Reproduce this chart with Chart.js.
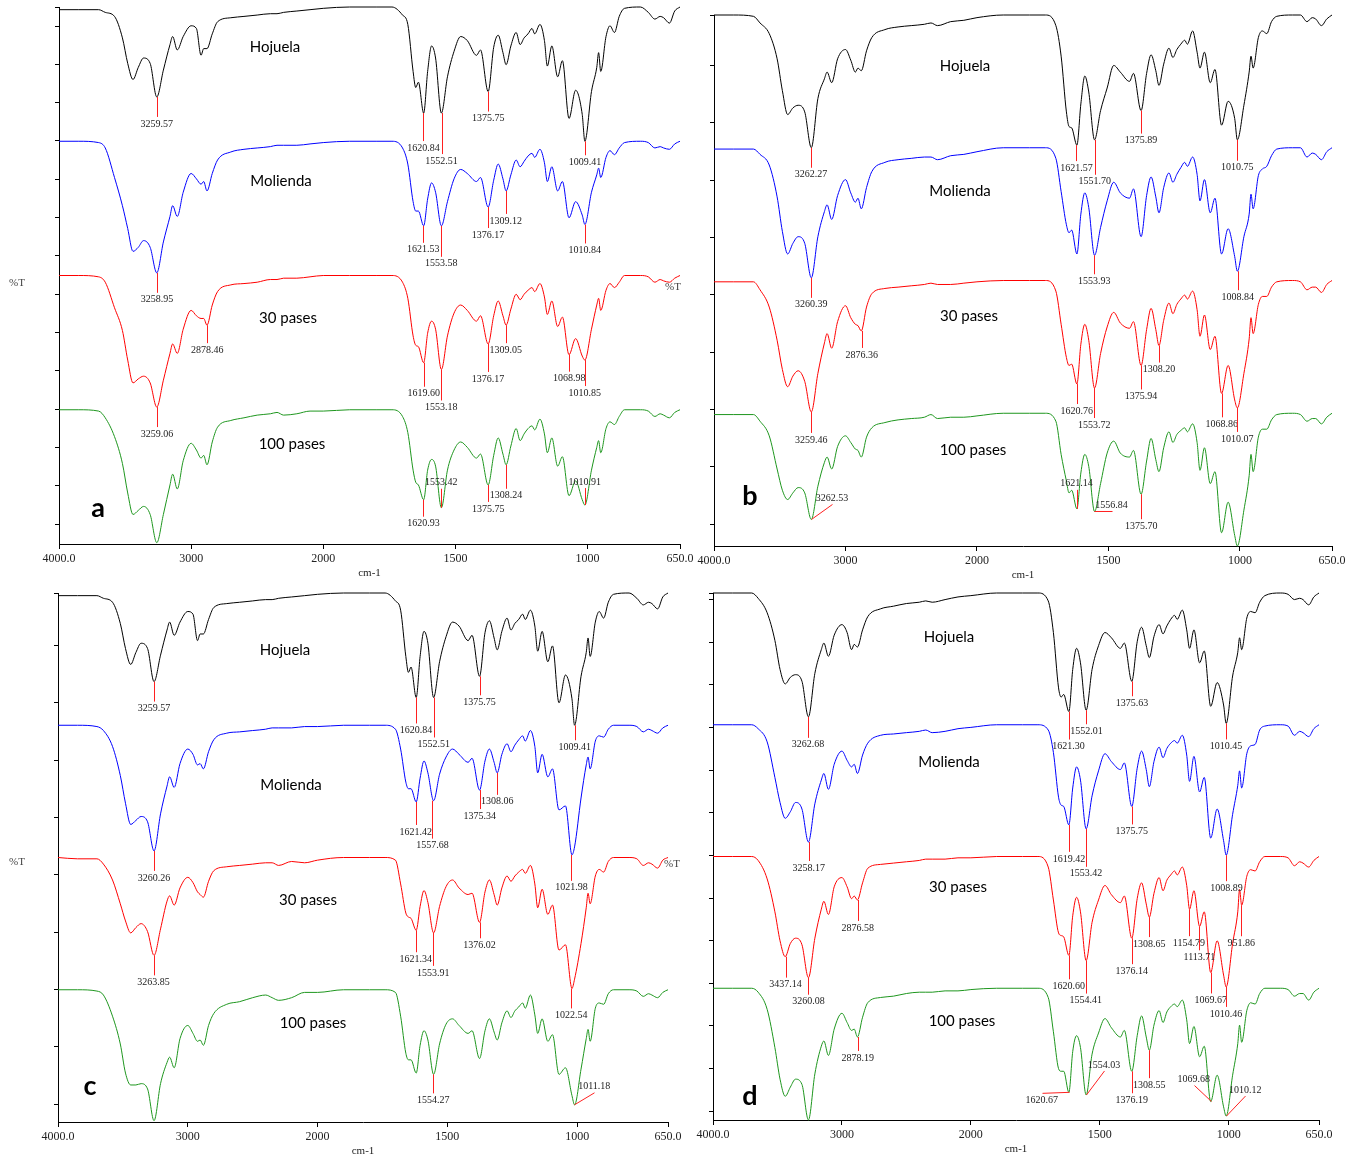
<!DOCTYPE html>
<html>
<head>
<meta charset="utf-8">
<script src="https://cdn.jsdelivr.net/npm/chart.js"></script>
<style>
  body { margin: 0; background: #fff; }
  #page { position: relative; width: 1360px; height: 1156px; overflow: hidden; background: #fff; }
  #page canvas { position: absolute; }
</style>
</head>
<body>
<div id="page">
  <canvas id="panelA"></canvas>
  <canvas id="panelB"></canvas>
  <canvas id="panelC"></canvas>
  <canvas id="panelD"></canvas>
</div>
<script>
const WN = [
  4000, 3850, 3700, 3650, 3580, 3520, 3480, 3440, 3400, 3360, 3310, 3260, 3210, 3160, 3140, 3105, 3060,
  3000, 2960, 2925, 2905, 2880, 2840, 2800, 2700, 2600, 2500, 2400, 2350, 2300, 2200, 2100, 2000,
  1900, 1800, 1740, 1700, 1680, 1660, 1650, 1640, 1620, 1605, 1590, 1575, 1553, 1530, 1505, 1480,
  1455, 1420, 1405, 1376, 1355, 1338, 1320, 1308, 1290, 1270, 1255, 1240, 1225, 1210, 1200, 1180,
  1163, 1152, 1135, 1113, 1095, 1070, 1045, 1020, 1010, 985, 965, 958, 950, 930, 915, 898, 880,
  860, 800, 770, 745, 725, 712, 690, 670, 650
];

const TRACE_NAMES = ['Hojuela', 'Molienda', '30 pases', '100 pases'];
const X_TICK_WN = [4000, 3000, 2000, 1500, 1000, 650];
const X_TICK_LABELS = ['4000.0', '3000', '2000', '1500', '1000', '650.0'];

// %T, 100 = flat baseline of the trace
const HOJUELA_AC = [
  98, 98, 98, 96, 93, 77, 58, 46, 55, 62, 58, 33, 53, 72, 78, 68, 78, 86, 84, 64, 69, 69, 80, 89, 92, 93, 94, 95, 95, 96, 97, 98, 99,
  100, 100, 100, 94, 87, 52, 40, 44, 21, 52, 71, 62, 21, 48, 67, 78, 75, 64, 68, 37, 70, 79, 66, 57, 71, 81, 72, 77, 80, 84, 80, 87,
  75, 56, 71, 48, 60, 17, 38, 20, 0, 37, 55, 66, 52, 78, 86, 81, 93, 99, 100, 96, 91, 93, 92, 88, 97, 100
];
const MOLIENDA_A = [
  100, 100, 99, 95, 73, 52, 35, 18, 21, 26, 21, 2, 25, 44, 52, 44, 62, 76, 72, 68, 70, 63, 76, 86, 92, 94, 95, 96, 97, 97, 97, 98, 99,
  100, 100, 100, 95, 83, 55, 48, 48, 37, 57, 69, 62, 37, 55, 72, 79, 76, 70, 73, 51, 71, 83, 72, 63, 75, 86, 81, 85, 89, 91, 88, 94,
  84, 70, 81, 63, 70, 43, 55, 45, 38, 62, 75, 80, 73, 88, 93, 90, 95, 99, 100, 99, 95, 96, 95, 94, 98, 100
];
const PASES30_A = [
  100, 100, 99, 95, 76, 59, 37, 20, 23, 25, 20, 2, 22, 42, 49, 42, 60, 74, 70, 68, 68, 63, 78, 88, 93, 94, 95, 97, 97, 98, 98, 99, 100,
  100, 100, 100, 95, 83, 55, 48, 47, 35, 57, 66, 60, 30, 55, 72, 78, 74, 66, 70, 49, 70, 81, 70, 63, 75, 86, 82, 86, 89, 91, 88, 94,
  84, 71, 81, 62, 69, 41, 53, 40, 37, 60, 78, 83, 74, 89, 94, 91, 95, 100, 100, 99, 95, 97, 96, 95, 98, 100
];
const PASES100_A = [
  100, 100, 99, 94, 80, 60, 38, 22, 25, 28, 22, 1, 22, 44, 52, 41, 62, 75, 70, 64, 66, 59, 76, 87, 92, 94, 96, 97, 98, 96, 97, 99, 99,
  100, 100, 100, 95, 83, 55, 46, 44, 33, 55, 63, 58, 27, 55, 70, 76, 72, 64, 67, 44, 66, 79, 67, 59, 73, 86, 77, 82, 86, 88, 85, 93,
  82, 68, 79, 58, 65, 36, 47, 33, 29, 55, 72, 77, 68, 86, 91, 89, 95, 100, 100, 99, 95, 97, 96, 94, 98, 100
];

const HOJUELA_B = [
  100, 100, 99, 94, 86, 67, 43, 25, 30, 32, 27, 0, 37, 52, 57, 49, 67, 74, 66, 57, 60, 58, 73, 83, 89, 91, 92, 93, 94, 92, 95, 96, 98,
  100, 100, 100, 92, 69, 27, 16, 15, 2, 33, 54, 42, 6, 28, 45, 62, 57, 50, 56, 28, 56, 70, 58, 47, 63, 75, 68, 74, 78, 81, 78, 88,
  72, 60, 72, 49, 59, 17, 35, 22, 6, 32, 57, 69, 60, 83, 88, 86, 95, 99, 100, 100, 95, 98, 97, 92, 97, 100
];
const MOLIENDA_B = [
  99, 99, 99, 95, 87, 63, 37, 20, 28, 33, 28, 2, 33, 52, 57, 46, 64, 76, 66, 59, 62, 54, 70, 82, 89, 91, 92, 93, 93, 91, 94, 95, 97,
  100, 100, 100, 92, 67, 42, 36, 38, 20, 50, 66, 55, 19, 40, 60, 74, 66, 62, 69, 33, 64, 78, 63, 51, 70, 81, 74, 80, 85, 89, 86, 93,
  80, 60, 76, 51, 62, 20, 39, 18, 7, 33, 50, 65, 54, 79, 84, 86, 94, 99, 100, 100, 93, 96, 95, 91, 97, 100
];
const PASES30_B = [
  99, 99, 99, 93, 80, 55, 33, 20, 28, 32, 24, 1, 30, 53, 60, 49, 69, 81, 72, 67, 66, 62, 80, 90, 94, 95, 96, 97, 98, 97, 97, 98, 99,
  100, 100, 100, 92, 67, 42, 36, 37, 22, 52, 67, 55, 19, 45, 65, 76, 68, 64, 69, 36, 63, 79, 63, 51, 70, 83, 75, 82, 86, 89, 86, 92,
  78, 58, 74, 48, 58, 15, 36, 10, 4, 30, 56, 72, 60, 82, 88, 88, 95, 99, 100, 99, 93, 95, 95, 91, 97, 100
];
const PASES100_B = [
  99, 99, 99, 94, 83, 58, 42, 35, 40, 44, 40, 20, 45, 63, 67, 58, 75, 83, 78, 73, 72, 67, 82, 89, 93, 95, 96, 97, 99, 96, 97, 97, 98,
  100, 100, 100, 94, 69, 49, 40, 42, 28, 55, 69, 60, 26, 47, 70, 79, 70, 67, 72, 39, 64, 81, 65, 56, 74, 86, 78, 84, 87, 89, 86, 92,
  78, 57, 74, 47, 56, 10, 33, 8, 0, 27, 53, 69, 56, 82, 88, 88, 95, 99, 100, 99, 94, 96, 96, 92, 97, 100
];

const MOLIENDA_C = [
  100, 100, 99, 96, 84, 62, 41, 25, 28, 31, 27, 5, 33, 54, 61, 53, 71, 82, 78, 70, 71, 67, 80, 89, 94, 95, 96, 97, 98, 98, 98, 99, 99,
  100, 100, 100, 97, 82, 57, 52, 52, 42, 60, 73, 64, 43, 63, 76, 82, 78, 72, 75, 51, 73, 82, 72, 64, 78, 86, 80, 85, 89, 92, 88, 96,
  84, 64, 78, 61, 67, 36, 39, 2, 8, 45, 70, 76, 67, 88, 92, 91, 97, 100, 100, 99, 95, 97, 96, 94, 98, 100
];
const PASES30_C = [
  100, 99, 99, 95, 83, 65, 52, 43, 47, 50, 44, 26, 46, 67, 71, 64, 77, 85, 81, 74, 72, 70, 82, 90, 93, 94, 95, 96, 96, 94, 97, 96, 98,
  100, 100, 100, 98, 80, 58, 55, 54, 45, 63, 75, 66, 43, 63, 78, 83, 77, 72, 73, 51, 74, 83, 72, 64, 77, 86, 82, 86, 89, 91, 88, 94,
  80, 62, 76, 57, 64, 30, 34, 1, 8, 35, 62, 73, 65, 86, 91, 89, 97, 100, 100, 99, 94, 96, 95, 92, 98, 100
];
const PASES100_C = [
  100, 100, 99, 96, 80, 59, 37, 28, 28, 29, 25, 1, 29, 45, 49, 41, 63, 73, 67, 61, 62, 58, 73, 82, 89, 91, 94, 96, 94, 92, 94, 98, 98,
  100, 100, 100, 98, 80, 52, 47, 47, 37, 58, 69, 62, 36, 59, 74, 78, 73, 67, 69, 48, 69, 78, 68, 62, 75, 84, 79, 84, 87, 90, 86, 96,
  81, 67, 78, 61, 66, 36, 41, 20, 13, 40, 63, 70, 61, 86, 90, 89, 97, 100, 100, 99, 95, 97, 96, 94, 98, 100
];

const HOJUELA_D = [
  100, 100, 100, 96, 85, 64, 42, 31, 36, 38, 33, 6, 39, 57, 62, 52, 68, 76, 70, 57, 61, 59, 72, 82, 88, 90, 92, 93, 94, 93, 95, 97, 98,
  100, 100, 100, 94, 70, 28, 21, 23, 10, 42, 58, 47, 11, 42, 60, 70, 66, 58, 62, 33, 63, 74, 60, 51, 67, 76, 69, 75, 80, 83, 80, 87,
  72, 58, 72, 47, 56, 14, 32, 15, 1, 37, 55, 66, 57, 81, 86, 85, 93, 98, 100, 99, 95, 96, 95, 91, 97, 100
];
const MOLIENDA_D = [
  100, 100, 100, 97, 87, 60, 41, 29, 34, 41, 36, 11, 40, 58, 63, 51, 70, 80, 73, 68, 70, 63, 77, 86, 92, 93, 94, 95, 96, 94, 95, 97, 98,
  100, 100, 100, 96, 79, 45, 39, 38, 24, 52, 68, 58, 21, 46, 65, 78, 72, 66, 71, 38, 67, 80, 66, 53, 72, 83, 75, 82, 86, 88, 86, 92,
  77, 57, 76, 49, 60, 14, 36, 12, 1, 32, 54, 65, 52, 78, 84, 85, 96, 99, 100, 99, 92, 95, 94, 91, 97, 100
];
const PASES30_D = [
  100, 100, 100, 97, 83, 58, 36, 24, 34, 38, 33, 8, 38, 60, 66, 56, 77, 84, 77, 68, 70, 67, 80, 91, 94, 95, 96, 97, 98, 98, 98, 99, 99,
  100, 100, 100, 92, 67, 42, 40, 39, 25, 55, 69, 58, 21, 50, 67, 78, 71, 65, 70, 38, 68, 80, 64, 54, 72, 84, 74, 82, 86, 89, 86, 92,
  78, 60, 74, 47, 58, 12, 36, 10, 1, 34, 58, 75, 63, 85, 90, 89, 96, 100, 100, 99, 93, 96, 95, 92, 97, 100
];
const PASES100_D = [
  100, 100, 100, 97, 84, 55, 31, 18, 25, 31, 27, 0, 35, 56, 60, 49, 69, 81, 74, 68, 69, 63, 78, 89, 93, 94, 96, 97, 97, 97, 98, 98, 99,
  100, 100, 100, 93, 67, 39, 37, 37, 21, 52, 64, 55, 19, 50, 66, 77, 70, 63, 68, 37, 64, 79, 63, 53, 72, 83, 74, 82, 86, 88, 86, 91,
  76, 58, 71, 48, 56, 14, 34, 10, 3, 34, 58, 72, 59, 83, 89, 88, 96, 100, 100, 99, 94, 96, 96, 91, 97, 100
];

// peak labels: [trace, label, line dx, line dy, label above/below]
const PEAKS_A = [
  [0, '3259.57', 0, 20, 'b'], [0, '1620.84', 0, 28, 'b'], [0, '1552.51', 0, 41, 'b'], [0, '1375.75', 0, 20, 'b'], [0, '1009.41', 0, 14, 'b'],
  [1, '3258.95', 0, 20, 'b'], [1, '1621.53', 0, 17, 'b'], [1, '1553.58', 0, 31, 'b'], [1, '1376.17', 0, 21, 'b'], [1, '1309.12', 0, 23, 'b'], [1, '1010.84', 0, 19, 'b'],
  [2, '3259.06', 0, 20, 'b'], [2, '2878.46', 0, 18, 'b'], [2, '1619.60', 0, 24, 'b'], [2, '1553.18', 0, 31, 'b'], [2, '1376.17', 0, 28, 'b'],
  [2, '1309.05', 0, 18, 'b'], [2, '1068.98', 0, 17, 'b'], [2, '1010.85', 0, 26, 'b'],
  [3, '1553.42', 0, -19, 'a'], [3, '1010.91', 0, -17, 'a'], [3, '1308.24', 0, 24, 'b'], [3, '1375.75', 0, 17, 'b'], [3, '1620.93', 0, 17, 'b']
];
const PEAKS_B = [
  [0, '3262.27', 0, 20, 'b'], [0, '1621.57', 0, 16, 'b'], [0, '1551.70', 0, 35, 'b'], [0, '1375.89', 0, 23, 'b'], [0, '1010.75', 0, 21, 'b'],
  [1, '3260.39', 0, 20, 'b'], [1, '1553.93', 0, 19, 'b'], [1, '1008.84', 0, 19, 'b'],
  [2, '3259.46', 0, 21, 'b'], [2, '2876.36', 0, 17, 'b'], [2, '1620.76', 0, 20, 'b'], [2, '1553.72', 0, 30, 'b'], [2, '1375.94', 0, 24, 'b'],
  [2, '1308.20', 0, 17, 'b'], [2, '1068.86', 0, 24, 'b'], [2, '1010.07', 0, 24, 'b'],
  [3, '3262.53', 21, -15, 'a'], [3, '1621.14', 0, -19, 'a'], [3, '1556.84', 18, 0, 'a'], [3, '1375.70', 0, 25, 'b']
];
const PEAKS_C = [
  [0, '3259.57', 0, 20, 'b'], [0, '1620.84', 0, 26, 'b'], [0, '1552.51', 0, 40, 'b'], [0, '1375.75', 0, 19, 'b'], [0, '1009.41', 0, 15, 'b'],
  [1, '3260.26', 0, 20, 'b'], [1, '1621.42', 0, 23, 'b'], [1, '1557.68', 0, 38, 'b'], [1, '1375.34', 0, 19, 'b'], [1, '1308.06', 0, 22, 'b'], [1, '1021.98', 0, 26, 'b'],
  [2, '3263.85', 0, 20, 'b'], [2, '1621.34', 0, 22, 'b'], [2, '1553.91', 0, 33, 'b'], [2, '1376.02', 0, 16, 'b'], [2, '1022.54', 0, 20, 'b'],
  [3, '1554.27', 0, 19, 'b'], [3, '1011.18', 20, -12, 'a']
];
const PEAKS_D = [
  [0, '3262.68', 0, 21, 'b'], [0, '1621.30', 0, 28, 'b'], [0, '1552.01', 0, 14, 'b'], [0, '1375.63', 0, 15, 'b'], [0, '1010.45', 0, 16, 'b'],
  [1, '3258.17', 0, 19, 'b'], [1, '1619.42', 0, 27, 'b'], [1, '1553.42', 0, 38, 'b'], [1, '1375.75', 0, 18, 'b'], [1, '1008.89', 0, 26, 'b'],
  [2, '3437.14', 0, 21, 'b'], [2, '3260.08', 0, 17, 'b'], [2, '2876.58', 0, 21, 'b'], [2, '1620.60', 0, 24, 'b'], [2, '1554.41', 0, 33, 'b'],
  [2, '1376.14', 0, 26, 'b'], [2, '1308.65', 0, 20, 'b'], [2, '1154.79', 0, 27, 'b'], [2, '1113.71', 0, 24, 'b'], [2, '1069.67', 0, 21, 'b'],
  [2, '1010.46', 0, 20, 'b'], [2, '951.86', 0, 31, 'b'],
  [3, '2878.19', 0, 14, 'b'], [3, '1620.67', -27, 1, 'b'], [3, '1554.03', 18, -24, 'a'], [3, '1376.19', 0, 22, 'b'],
  [3, '1308.55', 0, 28, 'b'], [3, '1069.68', -17, -16, 'a'], [3, '1010.12', 19, -20, 'a']
];

const COLORS = ['#000000', '#0000ff', '#ff0000', '#1e961e'];
const PEAK_COLOR = '#ff2020';
const BAND = 100;
const SERIF = '"Liberation Serif", "Times New Roman", serif';

// the x axis is drawn with 2x expansion below 2000 cm-1
const toU = w => (w > 2000 ? 2000 + (w - 2000) / 2 : w);

const PANELS = [
  { id: 'panelA', traces: [HOJUELA_AC, MOLIENDA_A, PASES30_A, PASES100_A], peaks: PEAKS_A,
    box: { x: 0, y: 0, w: 700, h: 585 }, area: { l: 59, t: 7, r: 680, b: 544 },
    yTick: { first: 20, step: 38.3 },
    names: [[275, 47], [281, 181], [288, 318], [292, 444]],
    letter: ['a', 98, 508], pct: [[17, 283], [673, 287]] },
  { id: 'panelB', traces: [HOJUELA_B, MOLIENDA_B, PASES30_B, PASES100_B], peaks: PEAKS_B,
    box: { x: 690, y: 0, w: 670, h: 585 }, area: { l: 714, t: 15, r: 1332, b: 546 },
    yTick: { first: 22, step: 57.3 },
    names: [[965, 66], [960, 191], [969, 316], [973, 450]],
    letter: ['b', 750, 496], pct: [] },
  { id: 'panelC', traces: [HOJUELA_AC, MOLIENDA_C, PASES30_C, PASES100_C], peaks: PEAKS_C,
    box: { x: 0, y: 585, w: 700, h: 571 }, area: { l: 58, t: 593, r: 668, b: 1122 },
    yTick: { first: 18, step: 57.3 },
    names: [[285, 650], [291, 785], [308, 900], [313, 1023]],
    letter: ['c', 90, 1086], pct: [[17, 862], [672, 864]] },
  { id: 'panelD', traces: [HOJUELA_D, MOLIENDA_D, PASES30_D, PASES100_D], peaks: PEAKS_D,
    box: { x: 690, y: 585, w: 670, h: 571 }, area: { l: 713, t: 593, r: 1319, b: 1120 },
    yTick: { first: 9, step: 42.6 },
    names: [[949, 637], [949, 762], [958, 887], [962, 1021]],
    letter: ['d', 750, 1096], pct: [] }
];

function nearestIndex(w) {
  let best = 0;
  WN.forEach((g, i) => { if (Math.abs(g - w) < Math.abs(WN[best] - w)) best = i; });
  return best;
}

function overlayPlugin(p) {
  const ox = p.box.x, oy = p.box.y;
  return {
    id: 'overlay_' + p.id,
    afterDatasetsDraw(chart) {
      const ctx = chart.ctx, xs = chart.scales.x, ys = chart.scales.y;
      ctx.save();
      ctx.font = '10px ' + SERIF;
      ctx.textAlign = 'center';
      p.peaks.forEach(([t, label, dx, dy, pos]) => {
        const w = parseFloat(label);
        const px = xs.getPixelForValue(toU(w));
        const py = ys.getPixelForValue(p.traces[t][nearestIndex(w)] + BAND * (3 - t));
        const ex = px + dx, ey = py + dy;
        ctx.strokeStyle = PEAK_COLOR;
        ctx.lineWidth = 1;
        ctx.beginPath();
        ctx.moveTo(Math.round(px) + 0.5, py);
        ctx.lineTo(Math.round(ex) + 0.5, ey);
        ctx.stroke();
        ctx.fillStyle = '#222';
        if (pos === 'a') { ctx.textBaseline = 'bottom'; ctx.fillText(label, ex, ey - 1); }
        else { ctx.textBaseline = 'top'; ctx.fillText(label, ex, ey + 2); }
      });
      ctx.restore();
    },
    afterDraw(chart) {
      const ctx = chart.ctx;
      ctx.save();
      ctx.fillStyle = '#000';
      ctx.textAlign = 'center';
      ctx.textBaseline = 'middle';
      ctx.font = '15px Lato, "Open Sans", sans-serif';
      p.names.forEach(([x, y], k) => ctx.fillText(TRACE_NAMES[k], x - ox, y - oy));
      ctx.font = 'bold 27px Lato, "Open Sans", sans-serif';
      ctx.fillText(p.letter[0], p.letter[1] - ox, p.letter[2] - oy);
      ctx.fillStyle = '#444';
      ctx.font = '11px ' + SERIF;
      p.pct.forEach(([x, y]) => ctx.fillText('%T', x - ox, y - oy));
      ctx.fillStyle = '#222';
      ctx.fillText('cm-1', (p.area.l + p.area.r) / 2 - ox, p.area.b + 29 - oy);
      ctx.restore();
    }
  };
}

PANELS.forEach(p => {
  const cv = document.getElementById(p.id);
  cv.width = p.box.w;
  cv.height = p.box.h;
  cv.style.left = p.box.x + 'px';
  cv.style.top = p.box.y + 'px';

  const datasets = p.traces.map((vals, k) => ({
    label: TRACE_NAMES[k],
    data: vals.map((v, i) => ({ x: toU(WN[i]), y: v + BAND * (3 - k) })),
    borderColor: COLORS[k],
    borderWidth: 1,
    pointRadius: 0,
    cubicInterpolationMode: 'monotone',
    fill: false,
    clip: false
  }));

  const unitsPerPx = 4 * BAND / (p.area.b - p.area.t);

  new Chart(cv, {
    type: 'line',
    data: { datasets },
    options: {
      responsive: false,
      animation: false,
      events: [],
      layout: { padding: { left: 0, top: p.area.t - p.box.y, right: p.box.x + p.box.w - p.area.r, bottom: 0 } },
      plugins: { legend: { display: false }, tooltip: { enabled: false } },
      scales: {
        x: {
          type: 'linear', reverse: true, min: toU(650), max: toU(4000),
          afterBuildTicks: s => { s.ticks = X_TICK_WN.map(w => ({ value: toU(w) })); },
          afterFit: s => { s.height = p.box.y + p.box.h - p.area.b; },
          ticks: {
            autoSkip: false, maxRotation: 0, padding: 3, color: '#222',
            font: { family: SERIF, size: 12 },
            callback: (v, i) => X_TICK_LABELS[i]
          },
          grid: { drawOnChartArea: false, drawTicks: true, tickLength: 5, color: '#000' },
          border: { display: true, color: '#000', width: 1 }
        },
        y: {
          type: 'linear', min: 0, max: 4 * BAND,
          afterBuildTicks: s => {
            const ticks = [];
            for (let px = p.yTick.first; px < p.area.b - p.area.t - 6; px += p.yTick.step) ticks.push({ value: px * unitsPerPx });
            ticks.push({ value: 4 * BAND });
            s.ticks = ticks;
          },
          afterFit: s => { s.width = p.area.l - p.box.x; },
          ticks: { display: false },
          grid: { drawOnChartArea: false, drawTicks: true, tickLength: 4, color: '#000' },
          border: { display: true, color: '#000', width: 1 }
        }
      }
    },
    plugins: [overlayPlugin(p)]
  });
});
</script>
</body>
</html>
